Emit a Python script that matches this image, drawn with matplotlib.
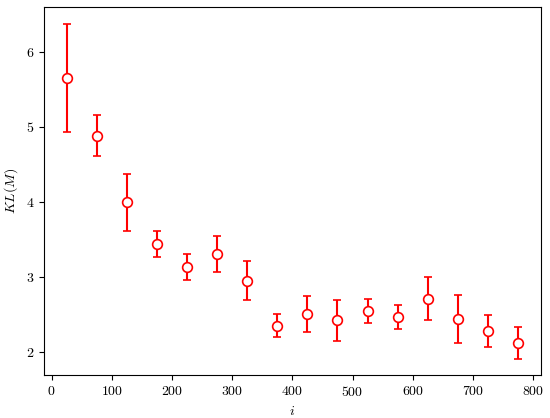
import matplotlib
matplotlib.use("Agg")
import matplotlib.pyplot as plt
import numpy as np

# LaTeX-like look without a TeX install
plt.rcParams['font.family'] = 'serif'
plt.rcParams['font.serif'] = ['cmr10']
plt.rcParams['mathtext.fontset'] = 'cm'
plt.rcParams['axes.formatter.use_mathtext'] = True

# bin centres and KL values with error sizes
x = np.array([25, 75, 125, 175, 225, 275, 325, 375, 425, 475, 525, 575, 625, 675, 725, 775])
kl = np.array([5.65, 4.88, 3.99, 3.44, 3.13, 3.31, 2.95, 2.35, 2.50, 2.42, 2.55, 2.46, 2.71, 2.44, 2.28, 2.12])
err = np.array([0.72, 0.27, 0.38, 0.17, 0.17, 0.24, 0.26, 0.15, 0.24, 0.27, 0.16, 0.16, 0.29, 0.32, 0.215, 0.21])

fig, ax = plt.subplots(figsize=(5.5, 4.18), dpi=100)
ax.errorbar(x, kl, yerr=err, fmt='o', color='red', mfc='white', mec='red',
            ms=7, mew=1.2, elinewidth=1.5, capsize=3, capthick=1.5)
ax.set_xlabel('$i$')
ax.set_ylabel('$KL(M)$')
ax.set_xticks(np.arange(0, 801, 100))
ax.set_yticks([2, 3, 4, 5, 6])

fig.subplots_adjust(left=0.08, right=0.983, top=0.983, bottom=0.102)
fig.savefig('out.png')
